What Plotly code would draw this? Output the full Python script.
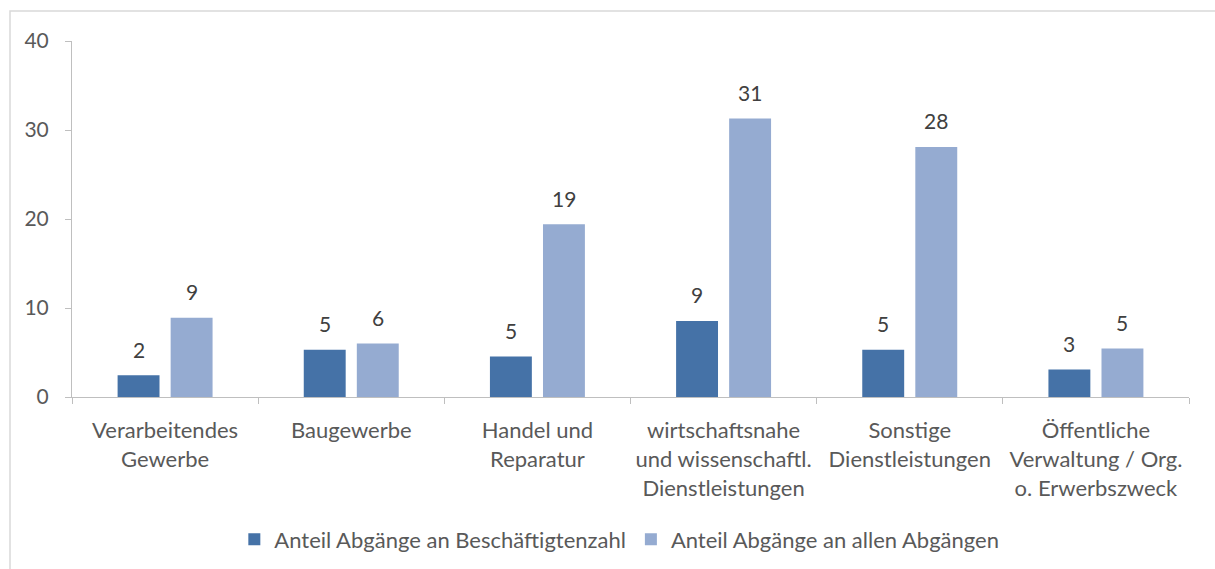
import plotly.graph_objects as go

categories = [
    "Verarbeitendes<br>Gewerbe",
    "Baugewerbe",
    "Handel und<br>Reparatur",
    "wirtschaftsnahe<br>und wissenschaftl.<br>Dienstleistungen",
    "Sonstige<br>Dienstleistungen",
    "Öffentliche<br>Verwaltung / Org.<br>o. Erwerbszweck",
]
series_names = ["Anteil Abgänge an Beschäftigtenzahl", "Anteil Abgänge an allen Abgängen"]
anteil_beschaeftigte = [2.45, 5.3, 4.55, 8.55, 5.3, 3.1]
anteil_abgaenge = [8.9, 6.0, 19.4, 31.3, 28.1, 5.45]
y_ticks = [0, 10, 20, 30, 40]

FONT = "Lato, 'Open Sans', sans-serif"
FS = 21
FS_CAT = 22
colors = ["#4572A7", "#95ABD1"]

fig = go.Figure()
annotations = []
for i, (name, vals, col) in enumerate(zip(series_names, [anteil_beschaeftigte, anteil_abgaenge], colors)):
    fig.add_trace(go.Bar(
        x=categories, y=vals, name=name,
        marker=dict(color=col, line=dict(width=0)),
        hoverinfo="skip",
    ))
    shift = -26.5 if i == 0 else 26.5
    for c, v in zip(categories, vals):
        annotations.append(dict(
            x=c, y=v, xref="x", yref="y", text=f"{v:.0f}",
            showarrow=False, xshift=shift, yshift=26, yanchor="middle",
            font=dict(family=FONT, size=FS, color="#404040"),
        ))

fig.update_layout(
    width=1215, height=569,
    paper_bgcolor="white", plot_bgcolor="white",
    margin=dict(l=72, r=26, t=41, b=172, autoexpand=False),
    barmode="group", bargap=0.43, bargroupgap=0.21,
    font=dict(family=FONT, size=FS, color="#595959"),
    showlegend=True,
    legend=dict(orientation="h", x=0.49, xanchor="center", y=-0.40, yanchor="middle",
                font=dict(family=FONT, size=FS_CAT, color="#595959"),
                itemwidth=30, traceorder="normal"),
    yaxis=dict(range=[0, 40], tickvals=y_ticks, showgrid=False, zeroline=False,
               showline=True, linecolor="#BFBFBF", linewidth=1,
               ticks="outside", ticklen=6, tickcolor="#BFBFBF",
               ticklabelstandoff=12, automargin=False,
               tickfont=dict(family=FONT, size=FS, color="#595959")),
    xaxis=dict(showgrid=False, showline=True, linecolor="#BFBFBF", linewidth=1,
               ticks="outside", ticklen=6, tickcolor="#BFBFBF",
               tickson="boundaries", ticklabelstandoff=14, automargin=False,
               tickfont=dict(family=FONT, size=FS_CAT, color="#595959")),
    annotations=annotations,
    shapes=[dict(type="rect", xref="paper", yref="paper",
                 x0=(10 - 72) / 1117, x1=(1230 - 72) / 1117,
                 y0=(397 - 590) / 356, y1=(397 - 11) / 356,
                 line=dict(color="#D9D9D9", width=1.5), fillcolor="rgba(0,0,0,0)", layer="below")],
)

fig.write_html("out.html", config={"displayModeBar": False},
               post_script="document.body.style.margin='0';document.body.style.overflow='hidden';")
